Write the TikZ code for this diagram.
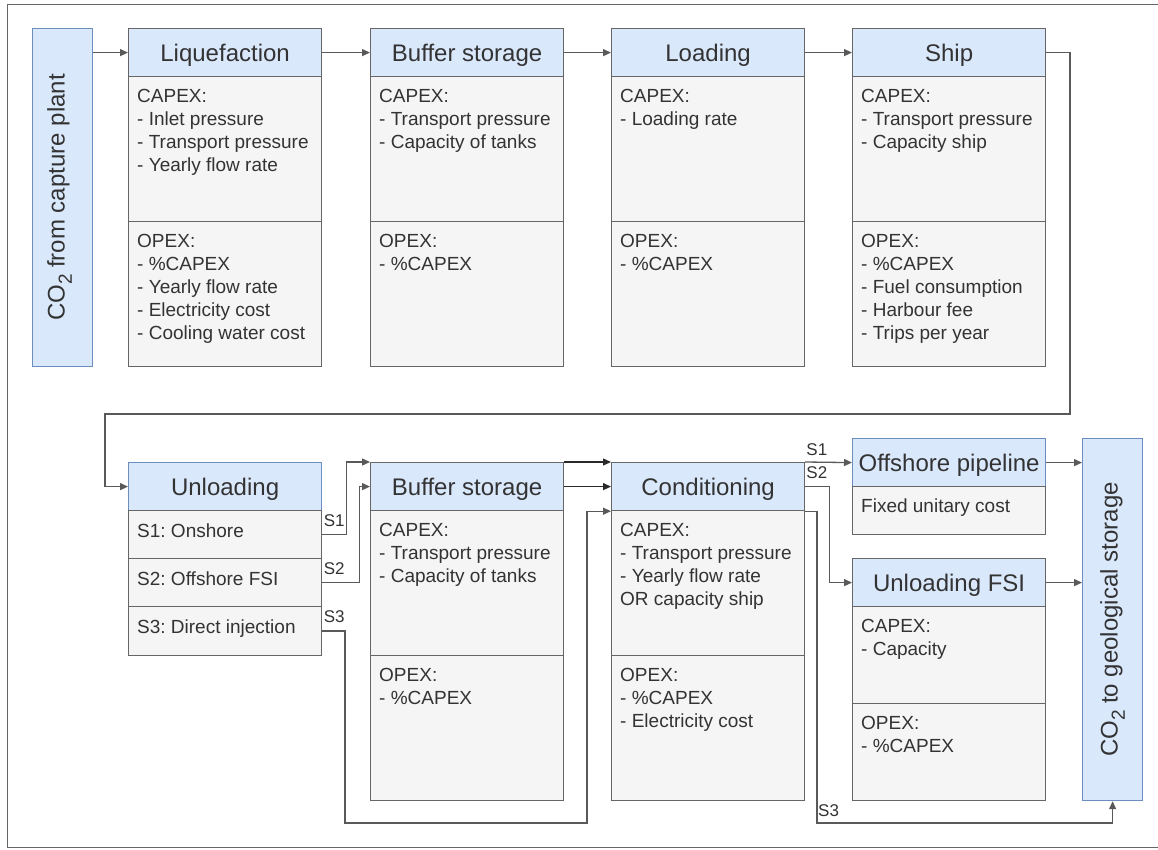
\documentclass[tikz,border=0pt]{standalone}
\usepackage{fontspec}
\setmainfont{Liberation Sans}
\usetikzlibrary{arrows.meta,calc}
\frenchspacing
\definecolor{hdrfill}{HTML}{DAE8FC}
\definecolor{hdrblue}{HTML}{6C8EBF}
\definecolor{bodyfill}{HTML}{F5F5F5}
\definecolor{boxline}{HTML}{666666}
\definecolor{txt}{HTML}{333333}
\definecolor{conncol}{HTML}{595959}
\definecolor{darkconn}{HTML}{2A2A2A}
\newcommand{\cotwo}[1]{CO\raisebox{-0.3em}{\fontsize{#1}{#1}\selectfont 2}}
\begin{document}
\frenchspacing
\begin{tikzpicture}[x=1pt,y=-1pt,
  hdr/.style={draw=boxline, fill=hdrfill, line width=1.2pt, anchor=north west, minimum width=193pt, minimum height=48pt, inner sep=0pt, text=txt, text height=18pt, text depth=0pt, font=\fontsize{24}{28}\selectfont},
  bodybox/.style={draw=boxline, fill=bodyfill, line width=1.2pt, anchor=north west, minimum width=193pt, inner sep=0pt},
  btext/.style={anchor=north west, align=left, inner sep=0pt, text=txt, font=\fontsize{19}{23}\selectfont\frenchspacing},
  endbox/.style={draw=hdrblue, fill=hdrfill, line width=1.2pt, anchor=north west, minimum width=60pt, inner sep=0pt},
  endtext/.style={rotate=90, inner sep=0pt, text=txt, font=\fontsize{24}{28}\selectfont},
  conn/.style={draw=conncol, line width=1.3pt, -{Triangle[length=8pt,width=7pt]}},
  dconn/.style={draw=darkconn, line width=1.3pt, -{Triangle[length=8pt,width=7pt]}},
  slabel/.style={anchor=base west, inner sep=0pt, text=txt, font=\fontsize{17}{19}\selectfont}
]
\useasboundingbox (0,0) rectangle (1158,850);
% outer frame
\draw[draw=boxline, line width=1.5pt] (7.5,4.5) rectangle (1170,847.5);

% ---------- top row ----------
\node[endbox, minimum height=338pt] (cap) at (32,28) {};
\node[endtext] (capt) at ($(cap.center)+(-3,0)$) {\cotwo{19} from capture plant};

\node[hdr] (liqH) at (128,28) {Liquefaction};
\node[bodybox, minimum height=145pt] (liqC) at (128,76) {};
\node[bodybox, minimum height=145pt] (liqO) at (128,221) {};
\node[btext] (liqCt) at ($(liqC.north west)+(9,13)$) {CAPEX:\\- Inlet pressure\\- Transport pressure\\- Yearly flow rate};
\node[btext] (liqOt) at ($(liqO.north west)+(9,13)$) {OPEX:\\- \%CAPEX\\- Yearly flow rate\\- Electricity cost\\- Cooling water cost};

\node[hdr] (bufH) at (370,28) {Buffer storage};
\node[bodybox, minimum height=145pt] (bufC) at (370,76) {};
\node[bodybox, minimum height=145pt] (bufO) at (370,221) {};
\node[btext] (bufCt) at ($(bufC.north west)+(9,13)$) {CAPEX:\\- Transport pressure\\- Capacity of tanks};
\node[btext] (bufOt) at ($(bufO.north west)+(9,13)$) {OPEX:\\- \%CAPEX};

\node[hdr] (loadH) at (611,28) {Loading};
\node[bodybox, minimum height=145pt] (loadC) at (611,76) {};
\node[bodybox, minimum height=145pt] (loadO) at (611,221) {};
\node[btext] (loadCt) at ($(loadC.north west)+(9,13)$) {CAPEX:\\- Loading rate};
\node[btext] (loadOt) at ($(loadO.north west)+(9,13)$) {OPEX:\\- \%CAPEX};

\node[hdr] (shipH) at (852,28) {Ship};
\node[bodybox, minimum height=145pt] (shipC) at (852,76) {};
\node[bodybox, minimum height=145pt] (shipO) at (852,221) {};
\node[btext] (shipCt) at ($(shipC.north west)+(9,13)$) {CAPEX:\\- Transport pressure\\- Capacity ship};
\node[btext] (shipOt) at ($(shipO.north west)+(9,13)$) {OPEX:\\- \%CAPEX\\- Fuel consumption\\- Harbour fee\\- Trips per year};

% ---------- bottom row ----------
\node[hdr, draw=hdrblue] (unlH) at (128,462) {Unloading};
\node[bodybox, minimum height=48pt] (unlS1) at (128,510) {};
\node[bodybox, minimum height=48pt] (unlS2) at (128,558) {};
\node[bodybox, minimum height=49pt] (unlS3) at (128,606) {};
\node[btext] (unlS1t) at ($(unlS1.north west)+(9,14)$) {S1: Onshore};
\node[btext] (unlS2t) at ($(unlS2.north west)+(9,14)$) {S2: Offshore FSI};
\node[btext] (unlS3t) at ($(unlS3.north west)+(9,14)$) {S3: Direct injection};

\node[hdr] (buf2H) at (370,462) {Buffer storage};
\node[bodybox, minimum height=145pt] (buf2C) at (370,510) {};
\node[bodybox, minimum height=145pt] (buf2O) at (370,655) {};
\node[btext] (buf2Ct) at ($(buf2C.north west)+(9,13)$) {CAPEX:\\- Transport pressure\\- Capacity of tanks};
\node[btext] (buf2Ot) at ($(buf2O.north west)+(9,13)$) {OPEX:\\- \%CAPEX};

\node[hdr] (condH) at (611,462) {Conditioning};
\node[bodybox, minimum height=145pt] (condC) at (611,510) {};
\node[bodybox, minimum height=145pt] (condO) at (611,655) {};
\node[btext] (condCt) at ($(condC.north west)+(9,13)$) {CAPEX:\\- Transport pressure\\- Yearly flow rate\\OR capacity ship};
\node[btext] (condOt) at ($(condO.north west)+(9,13)$) {OPEX:\\- \%CAPEX\\- Electricity cost};

\node[hdr, draw=hdrblue] (pipeH) at (852,438) {Offshore pipeline};
\node[bodybox, minimum height=48pt] (pipeB) at (852,486) {};
\node[btext] (pipeBt) at ($(pipeB.north west)+(9,13)$) {Fixed unitary cost};

\node[hdr] (fsiH) at (852,558) {Unloading FSI};
\node[bodybox, minimum height=97pt] (fsiC) at (852,606) {};
\node[bodybox, minimum height=97pt] (fsiO) at (852,703) {};
\node[btext] (fsiCt) at ($(fsiC.north west)+(9,13)$) {CAPEX:\\- Capacity};
\node[btext] (fsiOt) at ($(fsiO.north west)+(9,13)$) {OPEX:\\- \%CAPEX};

\node[endbox, minimum height=362pt] (geo) at (1082,438) {};
\node[endtext] (geot) at (geo.center) {\cotwo{19} to geological storage};

% ---------- routing points ----------
\coordinate (r1) at (1070,414);
\coordinate (l1) at (105,414);
\coordinate (s3a) at (345,823);
\coordinate (s3b) at (587,823);
\coordinate (t1) at (817,823);

% ---------- connectors ----------
\draw[conn] (liqH.west -| cap.east) -- (liqH.west);
\draw[conn] (liqH.east) -- (bufH.west);
\draw[conn] (bufH.east) -- (loadH.west);
\draw[conn] (loadH.east) -- (shipH.west);
\draw[conn] (shipH.east) -| (r1) -- (l1) |- (unlH.west);

\draw[conn] (unlS1.east) -- ++(24,0) |- (buf2H.north west);
\draw[conn] (unlS2.east) -- ++(37,0) |- (buf2H.west);
\draw[conn] (unlS3.east) -| (s3a) -- (s3b) |- (condH.south west);
\node[slabel] (lS1a) at ($(unlS1.east)+(1.5,-8)$) {S1};
\node[slabel] (lS2a) at ($(unlS2.east)+(1.5,-8)$) {S2};
\node[slabel] (lS3a) at ($(unlS3.east)+(1.5,-9)$) {S3};

\draw[dconn] (buf2H.north east) -- (condH.north west);
\draw[dconn] (buf2H.east) -- (condH.west);

\draw[conn] (condH.north east) -- (pipeH.west);
\draw[conn] (condH.east) -- ++(24,0) |- (fsiH.west);
\draw[conn] (condH.south east) -| (t1) -| (geo.south);
\node[slabel] (lS1b) at ($(condH.north east)+(1,-7)$) {S1};
\node[slabel] (lS2b) at ($(condH.east)+(1,-8)$) {S2};
\node[slabel] (lS3b) at ($(t1)+(1,-7)$) {S3};

\draw[conn] (pipeH.east) -- (pipeH.east -| geo.west);
\draw[conn] (fsiH.east) -- (fsiH.east -| geo.west);
\end{tikzpicture}
\end{document}
